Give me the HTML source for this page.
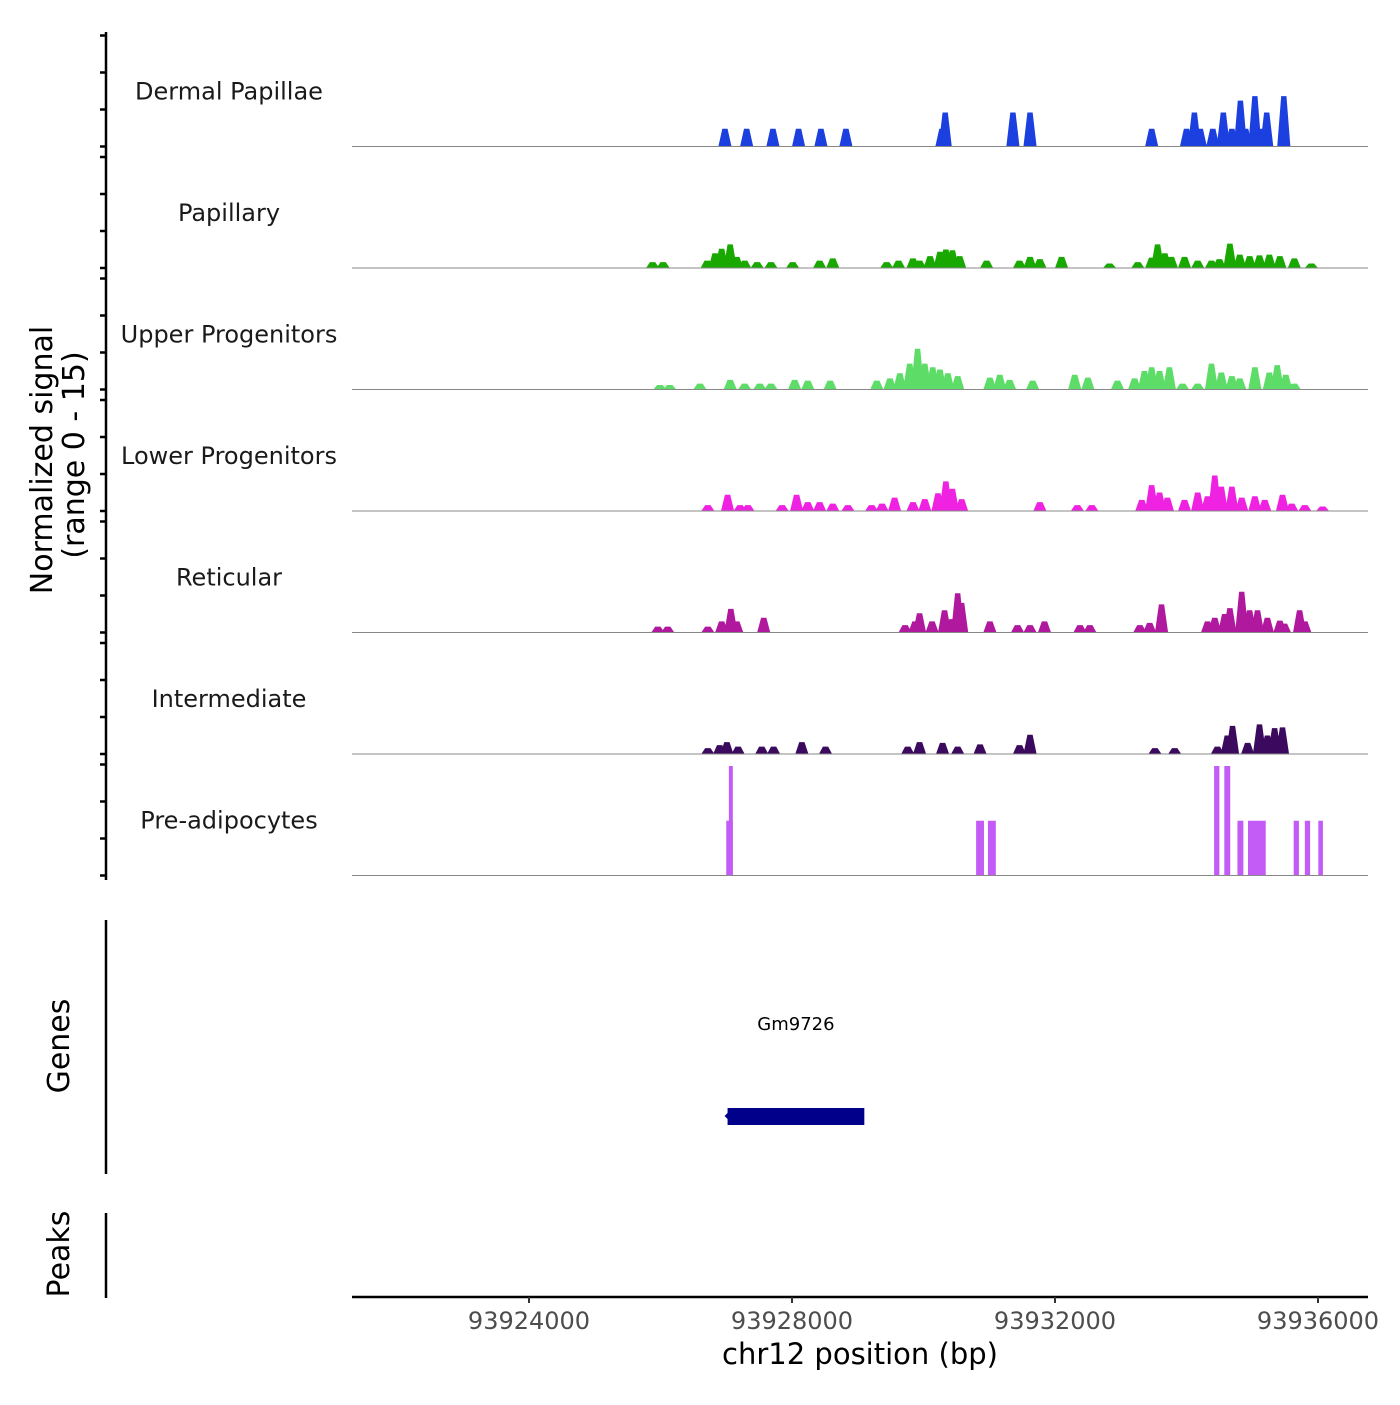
<!DOCTYPE html>
<html><head><meta charset="utf-8"><style>
body{margin:0;background:#fff;}
svg text{font-family:"DejaVu Sans","Liberation Sans",sans-serif;}
</style></head><body>
<svg id="chart" width="1400" height="1400" viewBox="0 0 1400 1400" xmlns="http://www.w3.org/2000/svg">
<g id="tracks"></g>
<g id="leftaxis"></g>
<text transform="translate(52,460) rotate(-90)" font-size="30" text-anchor="middle" fill="#000">Normalized signal</text>
<text transform="translate(84,455) rotate(-90)" font-size="30" text-anchor="middle" fill="#000">(range 0 - 15)</text>
<line x1="106" y1="920" x2="106" y2="1174" stroke="#000" stroke-width="2.5"/>
<text transform="translate(69,1046) rotate(-90)" font-size="30" text-anchor="middle">Genes</text>
<line x1="106" y1="1213" x2="106" y2="1298" stroke="#000" stroke-width="2.5"/>
<text transform="translate(69,1254) rotate(-90)" font-size="30" text-anchor="middle">Peaks</text>
<g id="genes"></g>
<g id="xaxis"></g>
<text x="860" y="1364" font-size="29" text-anchor="middle">chr12 position (bp)</text>
</svg>
<script>
const NS="http://www.w3.org/2000/svg";
const xTicks=[93924000,93928000,93932000,93936000];
const trackNames=["Dermal Papillae","Papillary","Upper Progenitors","Lower Progenitors","Reticular","Intermediate","Pre-adipocytes"];
const trackColors=["#1c3fe0","#18a800","#5ddc68","#ee22e0","#b0189e","#3b0a5e","#c35cf7"];
const dpPos=[93926.98,93927.31,93927.71,93928.10,93928.44,93928.82,93930.28,93930.33,93931.36,93931.62,93933.47,93934.00,93934.12,93934.21,93934.40,93934.56,93934.69,93934.82,93934.90,93935.04,93935.16,93935.22,93935.48];
const dpVal=[2.4,2.4,2.4,2.4,2.4,2.4,2.4,4.6,4.6,4.6,2.4,2.4,4.6,2.4,2.4,4.6,2.4,6.2,2.4,6.8,2.4,4.6,6.8];
const paPos=[93925.88,93926.04,93926.71,93926.83,93926.93,93927.06,93927.16,93927.28,93927.47,93927.68,93928.01,93928.42,93928.62,93929.44,93929.62,93929.84,93929.94,93930.10,93930.25,93930.34,93930.44,93930.55,93930.96,93931.46,93931.62,93931.77,93932.10,93932.83,93933.26,93933.47,93933.56,93933.67,93933.77,93933.97,93934.17,93934.38,93934.50,93934.66,93934.81,93934.96,93935.11,93935.26,93935.42,93935.64,93935.90];
const paVal=[0.8,0.8,1,2,2.6,3.2,1.5,1,0.8,0.8,0.8,1,1.3,0.8,1,1.3,1,1.6,2.2,2.5,2.4,1.6,1,1,1.5,1.2,1.5,0.6,0.8,1.4,3.2,2,1.5,1.5,1,1,1.2,3.3,1.8,1.6,1.7,1.8,1.6,1.3,0.6];
const upPos=[93925.99,93926.14,93926.60,93927.06,93927.28,93927.51,93927.68,93928.04,93928.24,93928.58,93929.29,93929.49,93929.64,93929.79,93929.91,93930.02,93930.14,93930.25,93930.37,93930.52,93931.01,93931.16,93931.31,93931.66,93932.30,93932.50,93932.95,93933.21,93933.36,93933.47,93933.59,93933.74,93933.94,93934.17,93934.38,93934.53,93934.69,93934.81,93935.04,93935.26,93935.38,93935.51,93935.64];
const upVal=[0.6,0.6,0.8,1.3,0.8,0.8,0.8,1.3,1.2,1.2,1.2,1.5,2.2,3.5,5.5,3.5,3,2.7,2.2,1.8,1.6,2,1.3,1.2,2,1.6,1.2,1.5,2.5,3,2.5,3,0.8,0.8,3.5,2.3,1.8,1.5,3,2.3,3.3,2,0.8];
const loPos=[93926.72,93927.02,93927.21,93927.33,93927.85,93928.07,93928.24,93928.42,93928.62,93928.85,93929.21,93929.37,93929.56,93929.84,93930.02,93930.22,93930.34,93930.44,93930.58,93931.77,93932.34,93932.56,93933.32,93933.47,93933.59,93933.71,93933.97,93934.17,93934.32,93934.43,93934.53,93934.69,93934.84,93935.04,93935.19,93935.46,93935.60,93935.80,93936.07];
const loVal=[0.8,2.2,0.8,0.8,0.8,2.2,1.2,1.2,1,0.8,0.8,1,1.8,1.2,1.6,2.4,4,3,1.6,1.2,0.8,0.8,1.5,3.5,2.5,1.8,1.5,2.5,2,4.8,3.3,3.3,1.8,2,1.5,2.2,1,0.8,0.6];
const rePos=[93925.96,93926.11,93926.72,93926.93,93927.07,93927.16,93927.57,93929.72,93929.87,93929.94,93930.13,93930.32,93930.43,93930.52,93930.58,93931.01,93931.43,93931.62,93931.84,93932.38,93932.53,93933.29,93933.44,93933.62,93934.32,93934.43,93934.58,93934.66,93934.84,93934.96,93935.08,93935.23,93935.42,93935.49,93935.72,93935.80];
const reVal=[0.8,0.8,0.8,1.5,3.2,1.5,2,1,1.5,2.6,1.5,3,1.8,5.3,4,1.5,1,1,1.5,1,1,1,1.3,3.8,1.5,2,2.5,3.3,5.5,3,3,2,1.6,1.2,3,1.5];
const inPos=[93926.72,93926.90,93927.01,93927.18,93927.54,93927.72,93928.15,93928.51,93929.76,93929.94,93930.29,93930.52,93930.86,93931.46,93931.62,93933.52,93933.82,93934.47,93934.62,93934.70,93934.93,93935.11,93935.23,93935.34,93935.46];
const inVal=[0.8,1.2,1.6,1,1,1,1.6,1,1,1.6,1.5,1,1.3,1.2,2.6,0.8,0.8,1,2.5,3.8,1.5,4,2.5,3.5,3.6];
const prPos=[93927.05,93927.07,93930.86,93931.04,93934.46,93934.62,93934.82,93935.07,93935.67,93935.84,93936.04];
const prVal=[7.4,14.8,7.4,7.4,14.8,14.8,7.4,7.4,7.4,7.4,7.4];
const prWid=[0.10,0.06,0.12,0.12,0.08,0.09,0.09,0.27,0.08,0.08,0.07];
const geneStart=93927.02, geneEnd=93929.10, geneName="Gm9726";

const tracks=[[dpPos,dpVal],[paPos,paVal],[upPos,upVal],[loPos,loVal],[rePos,reVal],[inPos,inVal],[prPos,prVal,prWid]];
const X=kb=>529+(kb-93924)*65.75;
const base0=146.5, trackH=121.5, unitPx=7.4;
const tg=document.getElementById('tracks');
const la=document.getElementById('leftaxis');
function mk(tag,attrs,parent){const e=document.createElementNS(NS,tag);for(const k in attrs)e.setAttribute(k,attrs[k]);parent.appendChild(e);return e;}
const axl=mk('line',{x1:106,y1:32,x2:106,y2:880,stroke:'#000','stroke-width':2.5},la);
tracks.forEach((t,i)=>{
  const b=base0+i*trackH;
  const g=mk('g',{},tg);
  
  
  const lab=mk('text',{x:229,y:b-47,'font-size':24,'text-anchor':'middle',fill:'#1a1a1a'},g);
  
  
  lab.textContent=trackNames[i];
  const [pos,val,wid]=t;
  pos.forEach((p,j)=>{
    const w=wid?wid[j]:0.2;
    const h=val[j]*unitPx;
    const x0=X(p-w/2),x1=X(p+w/2);
    const sl=wid?0:(x1-x0)*0.3;
    const poly=mk('polygon',{points:`${x0},${b} ${x0+sl},${b-h} ${x1-sl},${b-h} ${x1},${b}`,fill:trackColors[i]},g);
    
    
  });
  const bl=mk('line',{x1:352,y1:b,x2:1368,y2:b,stroke:'#888','stroke-width':1},g);
  
  
  for(let k=0;k<4;k++){
    const tk=mk('line',{x1:100,y1:b-k*37,x2:106,y2:b-k*37,stroke:'#000','stroke-width':2.5},la);
    
    
  }
});
const gg=document.getElementById('genes');
const gb=mk('rect',{x:X(geneStart),y:1108,width:X(geneEnd)-X(geneStart),height:17,fill:'#00008b'},gg);


const ga=mk('polygon',{points:`${X(geneStart)-3},1116 ${X(geneStart)+2},1111 ${X(geneStart)+2},1121`,fill:'#00008b'},gg);


const gl=mk('text',{x:(X(geneStart)+X(geneEnd))/2,y:1030,'font-size':18,'text-anchor':'middle',fill:'#000'},gg);


gl.textContent=geneName;
const xa=document.getElementById('xaxis');
const xl=mk('line',{x1:352,y1:1297,x2:1368,y2:1297,stroke:'#000','stroke-width':2.5},xa);


xTicks.forEach(v=>{
  const x=X(v/1000);
  const t=mk('line',{x1:x,y1:1297,x2:x,y2:1303,stroke:'#333','stroke-width':2},xa);
  
  
  const l=mk('text',{x:x,y:1329,'font-size':24,'text-anchor':'middle',fill:'#4d4d4d'},xa);
  
  
  l.textContent=String(v);
});
</script>
</body></html>
